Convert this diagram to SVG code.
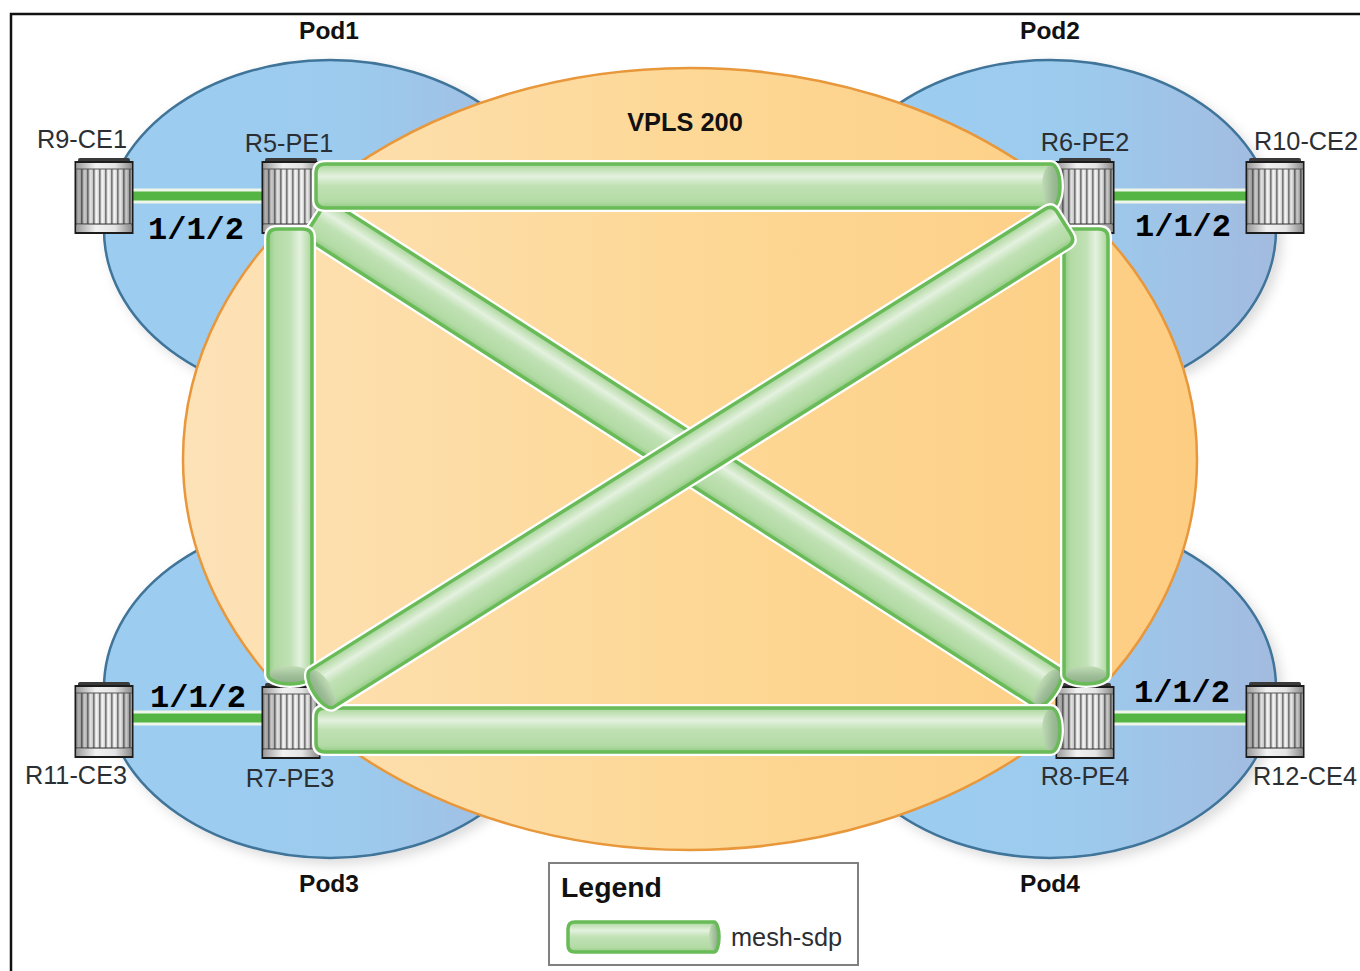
<svg xmlns="http://www.w3.org/2000/svg" xmlns:xlink="http://www.w3.org/1999/xlink" width="1360" height="971" viewBox="0 0 1360 971">
<style>
.lbl{font-family:"Liberation Sans",Arial,sans-serif;font-size:25.3px;fill:#2b2f33;text-anchor:middle}
.pod{font-family:"Liberation Sans",Arial,sans-serif;font-size:24.5px;font-weight:bold;fill:#111;text-anchor:middle}
.port{font-family:"Liberation Mono","Courier New",monospace;font-size:32px;font-weight:bold;fill:#000;text-anchor:middle}
.podshape{fill:url(#podGrad);stroke:#3f7499;stroke-width:2.5;filter:url(#soft)}
.halo{fill:none;stroke:#fff;stroke-width:8;stroke-linejoin:round}
.body{fill:url(#tubeGrad)}
.line{fill:none;stroke:#68bb57;stroke-width:3.5;stroke-linejoin:round}
.cap{fill:url(#capGrad)}
.linkHalo{stroke:#eef6ea;stroke-width:15;fill:none}
.link{stroke:#55b544;stroke-width:9;fill:none}
</style>
<defs>
<filter id="soft" x="-10%" y="-10%" width="125%" height="125%"><feDropShadow dx="5" dy="5" stdDeviation="6" flood-color="#000" flood-opacity="0.14"/></filter>
<linearGradient id="podGrad" x1="0" x2="1" y1="0" y2="0"><stop offset="0" stop-color="#9ccdf0"/><stop offset="0.55" stop-color="#9ccbee"/><stop offset="1" stop-color="#a2bbdf"/></linearGradient>
<linearGradient id="vplsGrad" x1="0" x2="1" y1="0" y2="0"><stop offset="0" stop-color="#fde2b8"/><stop offset="0.5" stop-color="#fdd896"/><stop offset="1" stop-color="#fdcd82"/></linearGradient>
<linearGradient id="tubeGrad" x1="0" x2="0" y1="0" y2="1"><stop offset="0" stop-color="#a6d399"/><stop offset="0.1" stop-color="#bfe0b2"/><stop offset="0.28" stop-color="#e4f1df"/><stop offset="0.5" stop-color="#c0e1b4"/><stop offset="0.85" stop-color="#b3dba5"/><stop offset="1" stop-color="#92cb83"/></linearGradient>
<linearGradient id="capGrad" x1="0" x2="1" y1="0" y2="0"><stop offset="0" stop-color="#c0dcb5"/><stop offset="0.6" stop-color="#9cbc96"/><stop offset="1" stop-color="#8cae88"/></linearGradient>
<linearGradient id="band" x1="0" x2="1" y1="0" y2="0"><stop offset="0" stop-color="#9c9c9c"/><stop offset="0.35" stop-color="#f1f1f1"/><stop offset="0.7" stop-color="#e4e4e4"/><stop offset="1" stop-color="#8c8c8c"/></linearGradient>
<linearGradient id="shade" x1="0" x2="1" y1="0" y2="0"><stop offset="0" stop-color="#000" stop-opacity="0.32"/><stop offset="0.35" stop-color="#000" stop-opacity="0"/><stop offset="0.75" stop-color="#000" stop-opacity="0"/><stop offset="1" stop-color="#000" stop-opacity="0.3"/></linearGradient>
<pattern id="ribs" width="6" height="10" patternUnits="userSpaceOnUse"><rect width="6" height="10" fill="#d4d4d4"/><rect x="0" width="1.6" height="10" fill="#777"/><rect x="2.6" width="2" height="10" fill="#f4f4f4"/></pattern>
<g id="router">
<rect x="3" y="0" width="52" height="5" rx="2" fill="#3a3a3a"/>
<rect x="0.5" y="4" width="57" height="71" fill="#ddd" stroke="#1c1c1c" stroke-width="2"/>
<rect x="1.5" y="5" width="55" height="6" fill="url(#band)"/>
<rect x="1.5" y="11" width="55" height="55" fill="url(#ribs)"/>
<rect x="1.5" y="11" width="55" height="55" fill="url(#shade)"/>
<line x1="1" x2="57" y1="11" y2="11" stroke="#555" stroke-width="1"/>
<line x1="1" x2="57" y1="66" y2="66" stroke="#333" stroke-width="1"/>
<rect x="1.5" y="67" width="55" height="7" fill="url(#band)"/>
</g>
<path id="d" d="M9 -22H869A9 22 0 0 1 869 22H9Q0 22 0 13V-13Q0 -22 9 -22Z"/>
<path id="d2" d="M9 -22H876A9 22 0 0 1 876 22H9Q0 22 0 13V-13Q0 -22 9 -22Z"/>
<path id="hs" d="M9 -22H735A9 22 0 0 1 735 22H9Q0 22 0 13V-13Q0 -22 9 -22Z"/>
<path id="vs" d="M9 -22H446A9 22 0 0 1 446 22H9Q0 22 0 13V-13Q0 -22 9 -22Z"/>
</defs>
<rect width="1360" height="971" fill="#fff"/>
<path d="M11 971V14H1360" fill="none" stroke="#111" stroke-width="2.5"/>

<g id="pod1"><ellipse class="podshape" cx="330" cy="230" rx="226" ry="170"/></g>
<g id="pod2"><ellipse class="podshape" cx="1050" cy="230" rx="226" ry="170"/></g>
<g id="pod3"><ellipse class="podshape" cx="330" cy="688" rx="226" ry="170"/></g>
<g id="pod4"><ellipse class="podshape" cx="1050" cy="688" rx="226" ry="170"/></g>
<g id="vpls200"><ellipse cx="690" cy="459" rx="507" ry="391" fill="url(#vplsGrad)" stroke="#e8973a" stroke-width="2.5"/>
<text class="pod" x="685" y="131" style="font-size:25.4px">VPLS 200</text></g>
<text class="pod" x="329" y="39">Pod1</text>
<text class="pod" x="1050" y="39">Pod2</text>
<text class="pod" x="329" y="892">Pod3</text>
<text class="pod" x="1050" y="892">Pod4</text>

<g id="access-links">
<path class="linkHalo" d="M133 196H262M1114 196H1246M133 718H262M1114 718H1246"/>
<path class="link" d="M133 196H262M1114 196H1246M133 718H262M1114 718H1246"/>
</g>

<g id="R9-CE1"><use href="#router" x="75" y="158"/><text class="lbl" x="82" y="148">R9-CE1</text></g>
<g id="R5-PE1"><use href="#router" x="262" y="158"/><text class="lbl" x="289" y="152">R5-PE1</text></g>
<g id="R6-PE2"><use href="#router" x="1056" y="158"/><text class="lbl" x="1085" y="151">R6-PE2</text></g>
<g id="R10-CE2"><use href="#router" x="1246" y="158"/><text class="lbl" x="1306" y="150">R10-CE2</text></g>
<g id="R11-CE3"><use href="#router" x="75" y="682"/><text class="lbl" x="76" y="784">R11-CE3</text></g>
<g id="R7-PE3"><use href="#router" x="262" y="683"/><text class="lbl" x="290" y="787">R7-PE3</text></g>
<g id="R8-PE4"><use href="#router" x="1056" y="683"/><text class="lbl" x="1085" y="785">R8-PE4</text></g>
<g id="R12-CE4"><use href="#router" x="1246" y="682"/><text class="lbl" x="1305" y="785">R12-CE4</text></g>

<g id="port-labels">
<text class="port" x="196" y="239">1/1/2</text>
<text class="port" x="1183" y="236">1/1/2</text>
<text class="port" x="198" y="707">1/1/2</text>
<text class="port" x="1182" y="702">1/1/2</text>
</g>

<g id="connectors">
<g id="sdp-R5-R8" transform="translate(316,218) rotate(32.7)">
<use href="#d" class="halo"/><use href="#d" class="body"/><ellipse class="cap" cx="869" cy="0" rx="9" ry="21"/><use href="#d" class="line"/></g>
<g id="sdp-R5-R6" transform="translate(316,186)">
<use href="#hs" class="halo"/><use href="#hs" class="body"/><ellipse class="cap" cx="735" cy="0" rx="9" ry="21"/><use href="#hs" class="line"/></g>
<g id="sdp-R7-R8" transform="translate(316,730)">
<use href="#hs" class="halo"/><use href="#hs" class="body"/><ellipse class="cap" cx="735" cy="0" rx="9" ry="21"/><use href="#hs" class="line"/></g>
<g id="sdp-R5-R7" transform="translate(290,229) rotate(90)">
<use href="#vs" class="halo"/><use href="#vs" class="body"/><ellipse class="cap" cx="446" cy="0" rx="9" ry="21"/><use href="#vs" class="line"/></g>
<g id="sdp-R6-R8" transform="translate(1086,229) rotate(90)">
<use href="#vs" class="halo"/><use href="#vs" class="body"/><ellipse class="cap" cx="446" cy="0" rx="9" ry="21"/><use href="#vs" class="line"/></g>
<g id="sdp-R6-R7" transform="translate(1064,223) rotate(147.9) scale(1,-1)">
<use href="#d2" class="halo"/><use href="#d2" class="body"/><ellipse class="cap" cx="876" cy="0" rx="9" ry="21"/><use href="#d2" class="line"/></g>
</g>

<g id="legend">
<rect x="549" y="863" width="309" height="102" fill="#fff" stroke="#808080" stroke-width="2"/>
<text x="561" y="897" style="font-family:'Liberation Sans',Arial,sans-serif;font-size:28.4px;font-weight:bold;fill:#111">Legend</text>
<g transform="translate(568,937)">
<path class="body" d="M7 -15H146A5 15 0 0 1 146 15H7Q0 15 0 8V-8Q0 -15 7 -15Z"/><ellipse class="cap" cx="146" cy="0" rx="5" ry="14"/><path class="line" d="M7 -15H146A5 15 0 0 1 146 15H7Q0 15 0 8V-8Q0 -15 7 -15Z"/></g>
<text x="731" y="946" style="font-family:'Liberation Sans',Arial,sans-serif;font-size:25.3px;fill:#2b2f33">mesh-sdp</text>
</g>
</svg>
